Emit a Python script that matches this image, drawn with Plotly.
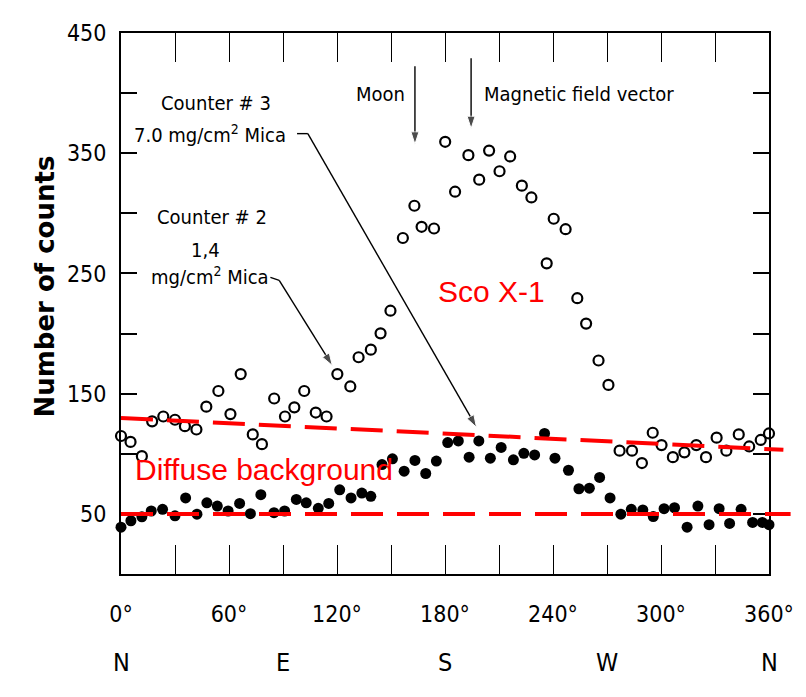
import plotly.graph_objects as go

# ---------------- data ----------------
# Counter #3 (7.0 mg/cm2 Mica) - open circles
ANG3 = [0, 5.3, 11.6, 17.3, 23.5, 30.0, 35.5, 41.9, 47.4, 54.1,
        60.8, 66.5, 73.2, 78.3, 85.1, 91.1, 96.3, 101.8, 108.2, 114.2,
        120.2, 127.4, 132.0, 138.8, 144.2, 149.7,
        156.6, 163.0, 167.0, 173.9, 180.1, 185.6, 193.0, 199.0, 204.5, 210.3,
        216.2, 222.7, 228.0, 236.5, 240.4, 247.0, 253.5, 258.4, 265.3, 270.8,
        277.0, 283.9, 289.4, 295.4, 300.3, 306.6, 313.0, 319.6, 325.0, 330.9,
        336.3, 343.2, 349.0, 355.4, 360.0]
VAL3 = [114.8, 109.9, 98.0, 127.0, 131.0, 128.3, 123.0, 120.2, 139.2, 152.2,
        133.0, 166.3, 116.1, 108.0, 146.0, 131.0, 138.6, 152.2, 134.3, 131.0,
        166.3, 156.0, 180.3, 186.6, 200.2, 219.0,
        279.5, 306.3, 288.8, 287.4, 359.5, 318.0, 348.4, 328.0, 352.2, 335.0,
        347.3, 323.0, 313.2, 258.4, 295.5, 286.8, 229.4, 208.3, 177.6, 157.3,
        102.6, 102.6, 92.3, 117.5, 107.2, 97.2, 101.2, 107.2, 97.2, 113.4,
        102.6, 116.1, 106.1, 111.5, 116.9]

# Counter #2 (1.4 mg/cm2 Mica) - filled circles
ANG2 = [0, 5.5, 11.6, 16.8, 23.1, 30.0, 35.9, 42.2, 47.7, 53.5,
        59.5, 65.9, 71.9, 77.7, 85.0, 90.9, 97.4, 102.9, 109.6, 115.4,
        121.5, 127.8, 133.8, 138.8, 145.0, 150.8,
        157.3, 163.3, 169.3, 175.2, 181.5, 187.4, 193.4, 198.8, 205.2, 211.2,
        218.0, 223.8, 229.8, 235.3, 241.1, 248.6, 254.4, 260.2, 265.9, 271.7,
        277.7, 283.5, 289.9, 295.7, 301.7, 307.5, 314.5, 320.5, 326.7, 332.3,
        338.1, 344.5, 350.9, 356.3, 360.0]
VAL2 = [38.9, 44.3, 47.6, 52.4, 53.8, 48.4, 63.3, 49.8, 59.2, 56.5,
        52.4, 58.7, 50.2, 66.0, 51.0, 52.4, 62.0, 59.2, 54.6, 58.7,
        70.0, 63.3, 67.3, 64.6, 91.0, 95.8,
        85.5, 94.5, 83.6, 93.9, 109.3, 110.7, 97.2, 110.7, 96.3, 105.3,
        95.0, 100.4, 99.0, 116.9, 96.3, 86.3, 70.9, 71.4, 80.3, 63.3,
        49.8, 53.8, 53.3, 47.8, 54.3, 55.1, 38.9, 56.5, 41.0, 54.3,
        42.1, 53.8, 42.9, 42.9, 41.0]

X_TICKS = [0, 60, 120, 180, 240, 300, 360]
X_TICK_TEXT = ["0°", "60°", "120°", "180°", "240°", "300°", "360°"]
X_MINOR_STEP = 30
Y_TICKS = [50, 150, 250, 350, 450]
Y_TICK_TEXT = ["50", "150", "250", "350", "450"]
Y_MINOR_STEP = 50
DIR_ANG = [0, 90, 180, 270, 360]
DIR_TXT = ["N", "E", "S", "W", "N"]

# diffuse-background guide lines (angle, counts) endpoints
BG_UPPER_ANG = [0, 368]
BG_UPPER_VAL = [129.7, 103.3]
BG_LOWER_ANG = [0, 372]
BG_LOWER_VAL = [50, 50]

X_RANGE = [0, 360]
Y_RANGE = [0, 450]

NARROW = "DejaVu Sans Condensed, Liberation Sans Narrow, Arial Narrow, sans-serif"
RED = "#ff0000"

fig = go.Figure()
fig.add_trace(go.Scatter(x=ANG3, y=VAL3, mode="markers", cliponaxis=False,
                         marker=dict(symbol="circle-open", size=10, color="black",
                                     line=dict(width=2.2, color="black")),
                         showlegend=False, hoverinfo="skip"))
fig.add_trace(go.Scatter(x=ANG2, y=VAL2, mode="markers", cliponaxis=False,
                         marker=dict(symbol="circle", size=11, color="black"),
                         showlegend=False, hoverinfo="skip"))


def px(a):
    return (a - X_RANGE[0]) / (X_RANGE[1] - X_RANGE[0])


def py(v):
    return (v - Y_RANGE[0]) / (Y_RANGE[1] - Y_RANGE[0])


for angs, vals in ((BG_UPPER_ANG, BG_UPPER_VAL), (BG_LOWER_ANG, BG_LOWER_VAL)):
    fig.add_shape(type="line", xref="paper", yref="paper",
                  x0=px(angs[0]), x1=px(angs[1]), y0=py(vals[0]), y1=py(vals[1]),
                  line=dict(color=RED, width=4, dash="32px,14px"), layer="above")

# leader ticks next to the labels
for (xa, ya, xb, yb) in [(97.8, 366.3, 103.8, 366.3), (83.0, 246.7, 87.9, 244.3)]:
    fig.add_shape(type="line", xref="x", yref="y", x0=xa, y0=ya, x1=xb, y1=yb,
                  line=dict(color="black", width=1.4))

# arrows: (tail x, tail y, tip x, tip y) drawn as a line with an arrow marker at the tip
for (sx, sy, tx, ty) in [(103.8, 366.3, 197.5, 122.0), (87.9, 244.3, 117.4, 173.4),
                         (163.3, 422.4, 163.3, 357.5), (194.5, 428.9, 194.5, 370.5)]:
    fig.add_trace(go.Scatter(x=[sx, tx], y=[sy, ty], mode="lines+markers",
                             line=dict(color="black", width=1.4), cliponaxis=False,
                             marker=dict(symbol="arrow", size=[0, 13], angleref="previous",
                                         color="black"),
                             showlegend=False, hoverinfo="skip"))

labels = [
    ("Counter # 3", 53.0, 391.5),
    ("7.0 mg/cm<sup>2</sup> Mica", 49.2, 366.0),
    ("Counter # 2", 50.4, 297.2),
    ("1,4", 46.8, 269.1),
    ("mg/cm<sup>2</sup> Mica", 49.4, 247.5),
    ("Moon", 144.2, 399.6),
    ("Magnetic field vector", 254.3, 399.6),
]
for t, x, y in labels:
    fig.add_annotation(x=x, y=y, xref="x", yref="y", text=t, showarrow=False,
                       font=dict(family=NARROW, size=20, color="black"))

fig.add_annotation(x=206.0, y=235.4, xref="x", yref="y", text="Sco X-1", showarrow=False,
                   font=dict(family="Liberation Sans, Arial, sans-serif", size=30, color=RED))
fig.add_annotation(x=6.6, y=86.6, xref="x", yref="y", text="Diffuse background",
                   showarrow=False, xanchor="left",
                   font=dict(family="Liberation Sans, Arial, sans-serif", size=30, color=RED))

for a, t in zip(DIR_ANG, DIR_TXT):
    fig.add_annotation(x=a, y=-0.195, xref="x", yref="paper", text=t, showarrow=False,
                       font=dict(family=NARROW, size=25, color="black"))

fig.add_annotation(x=-0.143, y=0.532, xref="paper", yref="paper", text="Number of counts",
                   textangle=-90, showarrow=False,
                   font=dict(family="DejaVu Sans", size=26, color="black", weight="bold"))

# the page body adds an 8px offset, so the figure is 8px smaller than the window
fig.update_layout(
    width=798, height=689,
    margin=dict(l=113, r=26, t=13, b=123),
    paper_bgcolor="white", plot_bgcolor="white",
    showlegend=False,
    xaxis=dict(range=X_RANGE, tickvals=X_TICKS, ticktext=X_TICK_TEXT,
               ticks="inside", ticklen=29, tickwidth=1.3, tickcolor="black",
               minor=dict(tick0=0, dtick=X_MINOR_STEP, ticks="inside", ticklen=29,
                          tickwidth=1.3, tickcolor="black", showgrid=False),
               showline=True, linecolor="black", linewidth=2, mirror="ticks",
               showgrid=False, zeroline=False, ticklabelstandoff=18,
               tickfont=dict(family=NARROW, size=23, color="black")),
    yaxis=dict(range=Y_RANGE, tickvals=Y_TICKS, ticktext=Y_TICK_TEXT,
               ticks="inside", ticklen=16, tickwidth=1.5, tickcolor="black",
               minor=dict(tick0=0, dtick=Y_MINOR_STEP, ticks="inside", ticklen=16,
                          tickwidth=1.5, tickcolor="black", showgrid=False),
               showline=True, linecolor="black", linewidth=2, mirror="ticks",
               showgrid=False, zeroline=False, ticklabelstandoff=8,
               tickfont=dict(family=NARROW, size=23, color="black")),
)

fig.write_html("out.html")
